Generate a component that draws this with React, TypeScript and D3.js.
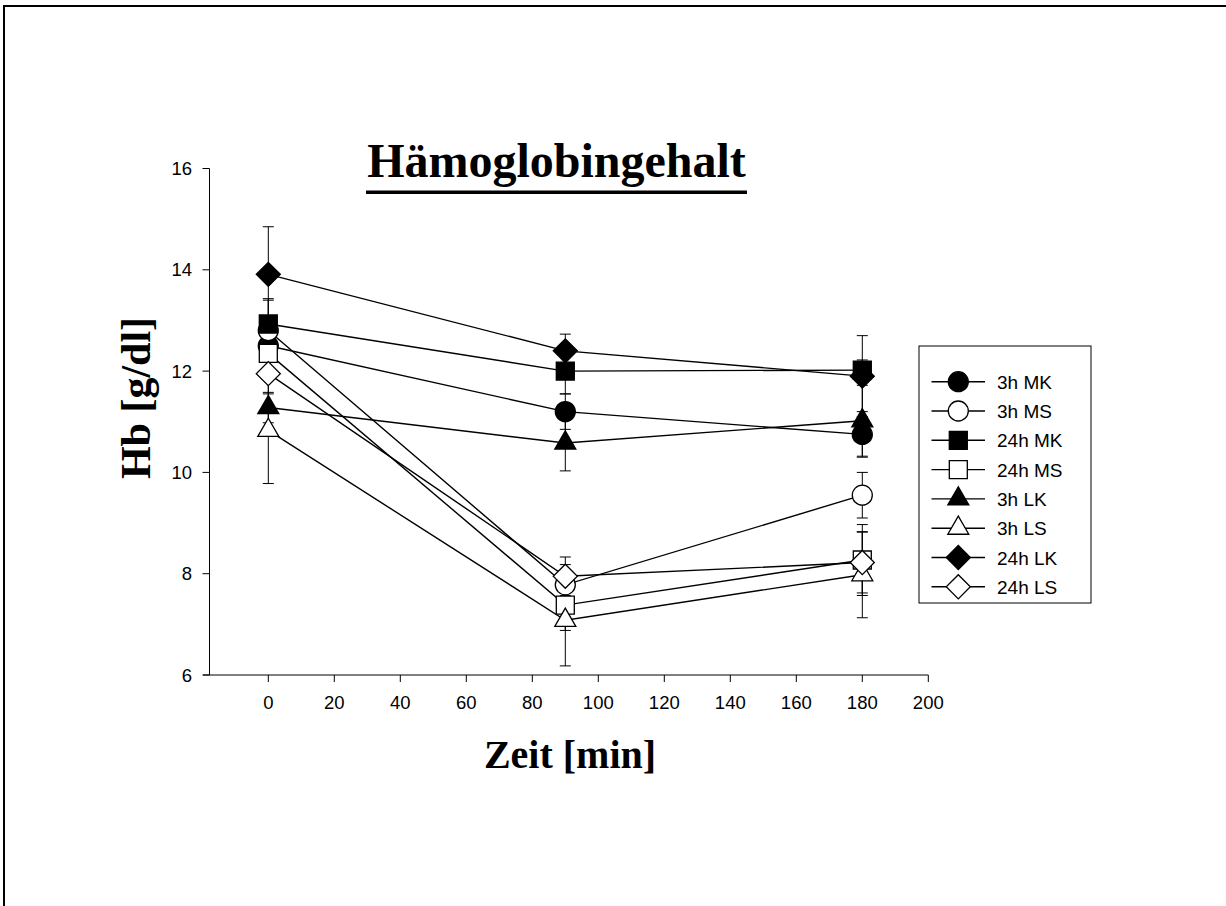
import React from "react";
import * as d3 from "d3";

// Hämoglobingehalt over time, mean ± error per group
const times = [0, 90, 180];
const xTicks = [0, 20, 40, 60, 80, 100, 120, 140, 160, 180, 200];
const yTicks = [6, 8, 10, 12, 14, 16];

const mk3h = [12.5, 11.2, 10.75];
const ms3h = [12.8, 7.78, 9.55];
const mk24h = [12.93, 12.0, 12.02];
const ms24h = [12.35, 7.38, 8.27];
const lk3h = [11.28, 10.58, 11.02];
const ls3h = [10.83, 7.08, 7.98];
const lk24h = [13.91, 12.4, 11.9];
const ls24h = [11.95, 7.95, 8.22];

const errMk3h = [0.5, 0.35, 0.45];
const errMs3h = [0.6, 0.4, 0.45];
const errMk24h = [0.5, 0.45, 0.2];
const errMs24h = [0.45, 0.5, 0.7];
const errLk3h = [0.3, 0.55, 0.7];
const errLs3h = [1.05, 0.9, 0.85];
const errLk24h = [0.94, 0.33, 0.8];
const errLs24h = [0.4, 0.38, 0.6];

const names = ["3h MK", "3h MS", "24h MK", "24h MS", "3h LK", "3h LS", "24h LK", "24h LS"];
const shapes = ["circle", "circle", "square", "square", "triangle", "triangle", "diamond", "diamond"];
const filled = [true, false, true, false, true, false, true, false];
const values = [mk3h, ms3h, mk24h, ms24h, lk3h, ls3h, lk24h, ls24h];
const errors = [errMk3h, errMs3h, errMk24h, errMs24h, errLk3h, errLs3h, errLk24h, errLs24h];

const symbolPath = (shape: string) => {
  if (shape === "circle") return d3.symbol(d3.symbolCircle, 314)()!;
  if (shape === "square") return d3.symbol(d3.symbolSquare, 324)()!;
  if (shape === "triangle") return d3.symbol(d3.symbolTriangle, 191)()!;
  return d3.symbol(d3.symbolSquare, 289)()!;
};

function Marker(props: { shape: string; fill: boolean; x: number; y: number }) {
  const rot = props.shape === "diamond" ? " rotate(45)" : "";
  return (
    <path
      d={symbolPath(props.shape)}
      transform={`translate(${props.x},${props.y})${rot}`}
      fill={props.fill ? "#000" : "#fff"}
      stroke="#000"
      strokeWidth={1.3}
    />
  );
}

export default function App() {
  const x = d3.scaleLinear().domain([0, 200]).range([268.3, 928.3]);
  const y = d3.scaleLinear().domain([6, 16]).range([675, 168.5]);
  const xLeft = 203;
  const yAxisX = 209.5;
  const line = d3
    .line<number>()
    .x((_, i) => x(times[i]))
    .y((d) => y(d));

  const legX = 919;
  const legY = 346;
  const legStep = 29.3;

  return (
    <svg
      width={1226}
      height={906}
      style={{ position: "absolute", left: 0, top: 0, background: "#fff" }}
    >
      <rect x={0} y={0} width={1226} height={906} fill="#fff" />
      {/* page frame, only top and left visible */}
      <path d="M4,906 V6 H1226" fill="none" stroke="#000" strokeWidth={2} />

      {/* title */}
      <text
        x={556.5}
        y={177}
        textAnchor="middle"
        fontFamily="'Liberation Serif', 'Times New Roman', serif"
        fontWeight="bold"
        fontSize={48}
      >
        Hämoglobingehalt
      </text>
      <rect x={366} y={190.5} width={381} height={3.5} fill="#000" />

      {/* y axis */}
      <line x1={yAxisX} x2={yAxisX} y1={y(16)} y2={y(6)} stroke="#000" strokeWidth={1} />
      {yTicks.map((t) => (
        <g key={t}>
          <line x1={yAxisX - 7} x2={yAxisX} y1={y(t)} y2={y(t)} stroke="#000" strokeWidth={1} />
          <text
            x={192}
            y={y(t) + 6.5}
            textAnchor="end"
            fontFamily="'Liberation Sans', Arial, sans-serif"
            fontSize={18.5}
          >
            {t}
          </text>
        </g>
      ))}

      {/* x axis */}
      <line x1={xLeft} x2={x(200)} y1={675} y2={675} stroke="#000" strokeWidth={1} />
      {xTicks.map((t) => (
        <g key={t}>
          <line x1={x(t)} x2={x(t)} y1={675} y2={682} stroke="#000" strokeWidth={1} />
          <text
            x={x(t)}
            y={709}
            textAnchor="middle"
            fontFamily="'Liberation Sans', Arial, sans-serif"
            fontSize={18.5}
          >
            {t}
          </text>
        </g>
      ))}

      {/* axis titles */}
      <text
        x={570}
        y={768}
        textAnchor="middle"
        fontFamily="'Liberation Serif', 'Times New Roman', serif"
        fontWeight="bold"
        fontSize={40}
      >
        Zeit [min]
      </text>
      <text
        transform="translate(150,398) rotate(-90)"
        textAnchor="middle"
        fontFamily="'Liberation Serif', 'Times New Roman', serif"
        fontWeight="bold"
        fontSize={42}
      >
        Hb [g/dl]
      </text>

      {/* error bars */}
      {values.map((vals, s) =>
        vals.map((v, i) => {
          const cx = x(times[i]);
          const top = y(v + errors[s][i]);
          const bot = y(v - errors[s][i]);
          return (
            <g key={`e${s}-${i}`} stroke="#000" strokeWidth={1}>
              <line x1={cx} x2={cx} y1={top} y2={bot} />
              <line x1={cx - 5.5} x2={cx + 5.5} y1={top} y2={top} />
              <line x1={cx - 5.5} x2={cx + 5.5} y1={bot} y2={bot} />
            </g>
          );
        })
      )}

      {/* series lines */}
      {values.map((vals, s) => (
        <path key={`l${s}`} d={line(vals)!} fill="none" stroke="#000" strokeWidth={1.4} />
      ))}

      {/* markers */}
      {values.map((vals, s) =>
        vals.map((v, i) => (
          <Marker key={`m${s}-${i}`} shape={shapes[s]} fill={filled[s]} x={x(times[i])} y={y(v)} />
        ))
      )}

      {/* legend */}
      <rect x={legX} y={legY} width={172} height={257} fill="#fff" stroke="#000" strokeWidth={1} />
      {names.map((n, i) => {
        const cy = legY + 35.7 + i * legStep;
        return (
          <g key={n}>
            <line x1={931.5} x2={985} y1={cy} y2={cy} stroke="#000" strokeWidth={1.4} />
            <Marker shape={shapes[i]} fill={filled[i]} x={958.3} y={cy} />
            <text
              x={997}
              y={cy + 7}
              fontFamily="'Liberation Sans', Arial, sans-serif"
              fontSize={19}
            >
              {n}
            </text>
          </g>
        );
      })}
    </svg>
  );
}
